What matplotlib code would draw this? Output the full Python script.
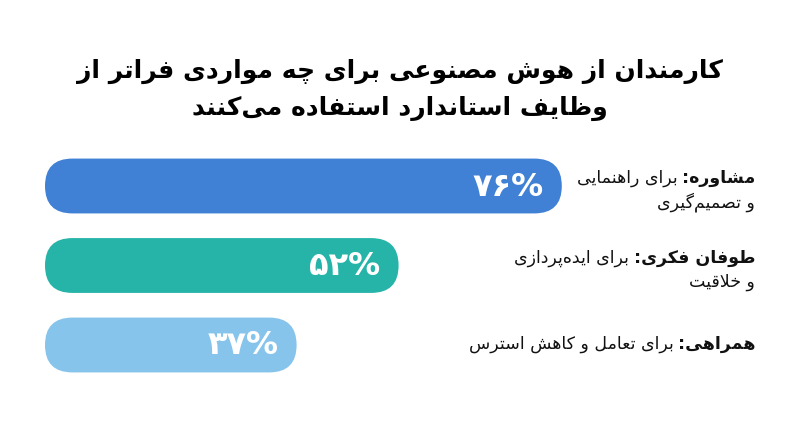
import matplotlib
matplotlib.use("Agg")
import matplotlib.pyplot as plt
import matplotlib.transforms as mtransforms
from matplotlib.patches import FancyBboxPatch

plt.rcParams["font.family"] = ["DejaVu Sans"]

# 데이터
title_lines = [
    "کارمندان از هوش مصنوعی برای چه مواردی فراتر از",
    "وظایف استاندارد استفاده می\u200cکنند",
]
values = [76, 52, 37]
label_bold = ["مشاوره:", "طوفان فکری:", "همراهی:"]
label_rest = ["برای راهنمایی", "برای ایده\u200cپردازی", "برای تعامل و کاهش استرس"]
label_line2 = ["و تصمیم\u200cگیری", "و خلاقیت", ""]
colors = ["#4080D5", "#26B4A8", "#87C4EC"]

# 아랍 문자 모양 (표현형) 변환
def _dual(b):
    return (b, b + 1, b + 2, b + 3)

FORMS = {
    "ا": (0xFE8D, 0xFE8E), "د": (0xFEA9, 0xFEAA), "ذ": (0xFEAB, 0xFEAC),
    "ر": (0xFEAD, 0xFEAE), "ز": (0xFEAF, 0xFEB0), "ژ": (0xFB8A, 0xFB8B),
    "و": (0xFEED, 0xFEEE),
    "ب": _dual(0xFE8F), "پ": _dual(0xFB56), "ت": _dual(0xFE95), "ث": _dual(0xFE99),
    "ج": _dual(0xFE9D), "چ": _dual(0xFB7A), "ح": _dual(0xFEA1), "خ": _dual(0xFEA5),
    "س": _dual(0xFEB1), "ش": _dual(0xFEB5), "ص": _dual(0xFEB9), "ض": _dual(0xFEBD),
    "ط": _dual(0xFEC1), "ظ": _dual(0xFEC5), "ع": _dual(0xFEC9), "غ": _dual(0xFECD),
    "ف": _dual(0xFED1), "ق": _dual(0xFED5), "ک": _dual(0xFB8E), "گ": _dual(0xFB92),
    "ل": _dual(0xFEDD), "م": _dual(0xFEE1), "ن": _dual(0xFEE5), "ه": _dual(0xFEE9),
    "ی": _dual(0xFBFC),
}


def shape(s):
    out = []
    i = 0
    n = len(s)
    while i < n:
        c = s[i]
        if c not in FORMS:
            if c != "\u200c":
                out.append(c)
            i += 1
            continue
        prev = s[i - 1] if i > 0 else ""
        p = prev in FORMS and len(FORMS[prev]) == 4
        if c == "ل" and i + 1 < n and s[i + 1] == "ا":
            out.append(chr(0xFEFC if p else 0xFEFB))
            i += 2
            continue
        nxt = s[i + 1] if i + 1 < n else ""
        f = FORMS[c]
        q = len(f) == 4 and nxt in FORMS
        if p and q:
            g = f[3]
        elif p:
            g = f[1]
        elif q:
            g = f[2]
        else:
            g = f[0]
        out.append(chr(g))
        i += 1
    return "".join(reversed(out))


fa_digits = str.maketrans("0123456789", "۰۱۲۳۴۵۶۷۸۹")

W, H = 800, 447
fig = plt.figure(figsize=(W / 100, H / 100), dpi=100)
fig.patch.set_facecolor("white")

# 축 위치 (픽셀)
x0_px, x100_px = 45, 725
row_px = 79.5
top_px = 146.25
ax = fig.add_axes([x0_px / W, (H - top_px - 3 * row_px) / H,
                   (x100_px - x0_px) / W, 3 * row_px / H])
ax.set_xlim(0, 100)
ax.set_ylim(2.5, -0.5)
ax.axis("off")

bar_h = 0.69
px_x = (x100_px - x0_px) / 100.0
px_y = row_px
radius = bar_h / 2 * px_y / px_x
for i, v in enumerate(values):
    ax.add_patch(FancyBboxPatch((0, i - bar_h / 2), v, bar_h,
                                boxstyle=f"round,pad=0,rounding_size={radius}",
                                mutation_aspect=px_x / px_y,
                                fc=colors[i], ec="none"))
    ax.text(v, i, f"{v}".translate(fa_digits) + "%", ha="right", va="center",
            color="white", fontsize=23, fontweight="bold",
            transform=mtransforms.offset_copy(ax.transData, fig, x=-18, y=-1, units="dots"))

# 제목
fig.text(0.5, 1 - 78 / H, shape(title_lines[0]), ha="center", va="baseline",
         fontsize=18, fontweight="bold", color="black")
fig.text(0.5, 1 - 115 / H, shape(title_lines[1]), ha="center", va="baseline",
         fontsize=18, fontweight="bold", color="black")

# 오른쪽 라벨
label_x = 755 / W
blend = mtransforms.blended_transform_factory(fig.transFigure, ax.transData)
renderer = fig.canvas.get_renderer()
fs = 12.5
for i in range(len(values)):
    two = label_line2[i] != ""
    dy1 = 3 if two else -4
    t1 = ax.text(label_x, i, shape(label_bold[i]), ha="right", va="baseline",
                 fontsize=fs, fontweight="bold", color="#111111",
                 transform=mtransforms.offset_copy(blend, fig, y=dy1, units="dots"))
    bb = t1.get_window_extent(renderer)
    ax.text((bb.x0 - 4) / W, i, shape(label_rest[i]), ha="right", va="baseline",
            fontsize=fs, color="#111111",
            transform=mtransforms.offset_copy(blend, fig, y=dy1, units="dots"))
    if two:
        ax.text(label_x, i, shape(label_line2[i]), ha="right", va="baseline",
                fontsize=fs, color="#111111",
                transform=mtransforms.offset_copy(blend, fig, y=-21, units="dots"))

fig.savefig("out.png", dpi=100, facecolor="white")
